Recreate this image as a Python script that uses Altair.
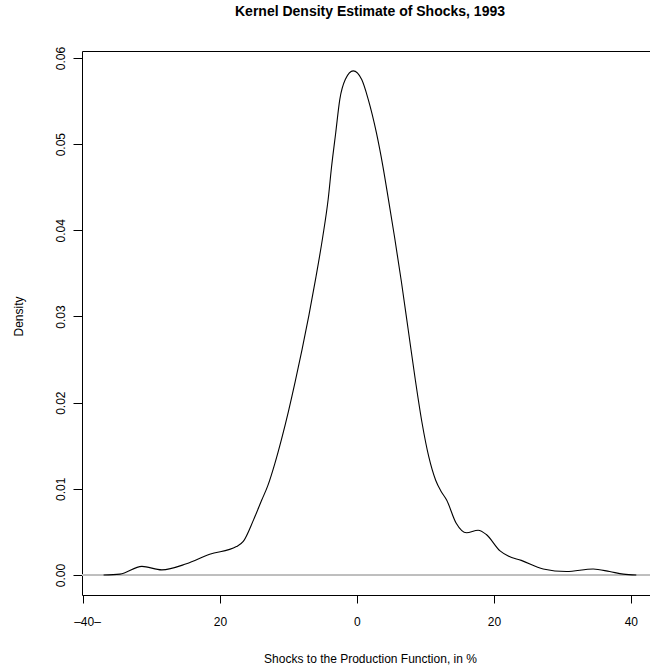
import altair as alt
import pandas as pd

# Density curve
xs = [-37.0, -34.6, -31.4, -28.5, -24.9, -21.5, -17.6, -16.6, -15.1, -13.9,
      -13.0, -12.0, -11.0, -10.0, -9.0, -8.0, -7.0, -6.0, -5.0, -4.2,
      -3.7, -3.1, -2.5, -1.7, -0.54, 0.7, 1.65, 2.85, 3.8, 4.6,
      5.5, 6.5, 7.5, 8.5, 9.5, 10.5, 11.5, 12.3, 13.1, 14.5,
      16.0, 17.7, 18.9, 20.9, 22.1, 24.0, 27.2, 30.6, 34.5, 36.9,
      38.9, 40.8]
ys = [0.0, 0.0001, 0.0010, 0.0006, 0.0013, 0.0024, 0.0033, 0.0039, 0.0064, 0.0087,
      0.0104, 0.0129, 0.0158, 0.0190, 0.0225, 0.0262, 0.0302, 0.0345, 0.0392, 0.0436,
      0.0474, 0.0513, 0.0552, 0.0575, 0.0585, 0.0575, 0.0552, 0.0513, 0.0474, 0.0436,
      0.0392, 0.0340, 0.0284, 0.0228, 0.0177, 0.0137, 0.0110, 0.0097, 0.0087, 0.0060,
      0.0049, 0.0052, 0.0047, 0.0028, 0.0022, 0.0017, 0.0007, 0.0004, 0.0007, 0.0004,
      0.0001, 0.0]

x_tick_values = [-40, -20, 0, 20, 40]
x_tick_labels = ["\u201340\u2013", "20", "0", "20", "40"]
y_tick_values = [0.0, 0.01, 0.02, 0.03, 0.04, 0.05, 0.06]

title_text = "Kernel Density Estimate of Shocks, 1993"
x_title = "Shocks to the Production Function, in %"
y_title = "Density"

df = pd.DataFrame({"x": xs, "y": ys})

label_expr = " : ".join(
    f"datum.value == {v} ? '{l}'" for v, l in zip(x_tick_values, x_tick_labels)
) + " : ''"

FONT = "Liberation Sans"
xdom = [-40.15, 42.8]
ydom = [-0.00232, 0.06081]

x_axis = alt.Axis(values=x_tick_values, labelExpr=label_expr, grid=False,
                  domain=False, tickColor="black", tickSize=8, tickWidth=1,
                  labelFont=FONT, labelFontSize=12, labelColor="black",
                  labelPadding=13, labelFlush=False, labelOverlap=False,
                  labelOffset={"condition": {"test": f"datum.value == {x_tick_values[0]}", "value": 4}, "value": 0},
                  title=x_title, titleFont=FONT, titleFontSize=12,
                  titleFontWeight="normal", titleColor="black",
                  titleX=288, titleY=63, titleBaseline="middle", titleAnchor="middle")
y_axis = alt.Axis(values=y_tick_values, format=".2f", grid=False, domain=False,
                  tickColor="black", tickSize=9, tickWidth=1,
                  labelFont=FONT, labelFontSize=12, labelColor="black",
                  labelAngle=-90, labelAlign="center", labelBaseline="alphabetic",
                  labelPadding=9, labelFlush=False, labelOverlap=False,
                  title=y_title, titleFont=FONT, titleFontSize=12,
                  titleFontWeight="normal", titleColor="black",
                  titleX=-64, titleY=265, titleAngle=-90, titleAlign="center",
                  titleBaseline="middle")

base = alt.Chart(df)

zero = base.mark_rule(color="#bebebe", strokeWidth=1).encode(
    y=alt.datum(0, scale=alt.Scale(domain=ydom, nice=False, zero=False), axis=y_axis)
)

line = base.mark_line(color="black", strokeWidth=1.1, interpolate="monotone", clip=True).encode(
    x=alt.X("x:Q", scale=alt.Scale(domain=xdom, nice=False, zero=False), axis=x_axis),
    y=alt.Y("y:Q", scale=alt.Scale(domain=ydom, nice=False, zero=False), axis=y_axis),
)

chart = alt.layer(zero, line).properties(
    width=568, height=544,
    autosize=alt.AutoSizeParams(type="none"),
    padding={"left": 82, "top": 51, "right": 0, "bottom": 76},
    title=alt.Title(title_text, font=FONT, fontSize=14, fontWeight="bold",
                    color="black", anchor="middle", offset=27, dx=4),
    background="white",
).configure_view(stroke="black", strokeWidth=1)

chart.save("out.html", embed_options={"renderer": "svg", "actions": False})
